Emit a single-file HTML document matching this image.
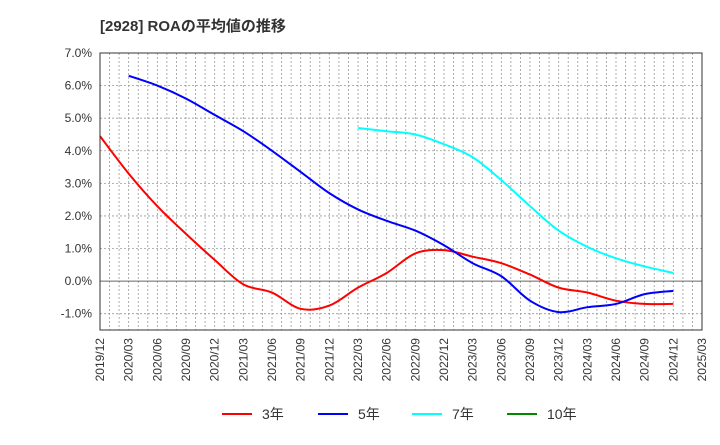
<!DOCTYPE html>
<html><head><meta charset="utf-8"><style>
body{margin:0;background:#fff;font-family:"Liberation Sans","Noto Sans CJK JP",sans-serif}
svg text{font-family:"Liberation Sans","Noto Sans CJK JP",sans-serif}
</style></head><body>
<svg id="c" width="720" height="440" xmlns="http://www.w3.org/2000/svg">
<text x="100" y="31" font-size="15" font-weight="bold" fill="#333">[2928]  ROAの平均値の推移</text>
<g id="grid"></g><g id="series"></g><g id="axes"></g>
<g>
<g><line x1="222" y1="414" x2="252" y2="414" stroke="#f00" stroke-width="2"/><text x="262" y="419" font-size="14" fill="#333">3年</text></g>
<g><line x1="318" y1="414" x2="348" y2="414" stroke="#00f" stroke-width="2"/><text x="358" y="419" font-size="14" fill="#333">5年</text></g>
<g><line x1="412" y1="414" x2="442" y2="414" stroke="#0ff" stroke-width="2"/><text x="452" y="419" font-size="14" fill="#333">7年</text></g>
<g><line x1="507" y1="414" x2="537" y2="414" stroke="#080" stroke-width="2"/><text x="547" y="419" font-size="14" fill="#333">10年</text></g>
</g>
</svg>
<script>
const xLabels=["2019/12","2020/03","2020/06","2020/09","2020/12","2021/03","2021/06","2021/09","2021/12","2022/03","2022/06","2022/09","2022/12","2023/03","2023/06","2023/09","2023/12","2024/03","2024/06","2024/09","2024/12","2025/03"];
const yTicks=[7,6,5,4,3,2,1,0,-1];
const red=[4.45,3.3,2.3,1.45,0.65,-0.1,-0.35,-0.85,-0.75,-0.2,0.25,0.85,0.95,0.75,0.55,0.2,-0.2,-0.35,-0.6,-0.7,-0.7];
const blue=[null,6.3,6.0,5.6,5.1,4.6,4.0,3.35,2.7,2.2,1.85,1.55,1.1,0.55,0.15,-0.6,-0.95,-0.8,-0.7,-0.4,-0.3];
const cyan=[null,null,null,null,null,null,null,null,null,4.7,4.6,4.5,4.2,3.8,3.1,2.3,1.55,1.05,0.7,0.45,0.25];
const L=100,R=702,T=53,B=330,yMax=7,yMin=-1.5;
const NS="http://www.w3.org/2000/svg";
const xs=i=>L+(R-L)*i/(xLabels.length-1);
const ys=v=>T+(yMax-v)*(B-T)/(yMax-yMin);
function mk(t,a,p){const e=document.createElementNS(NS,t);for(const k in a)e.setAttribute(k,a[k]);p.appendChild(e);return e;}
const grid=document.getElementById('grid'),axes=document.getElementById('axes'),ser=document.getElementById('series');
for(let m=1;m<(xLabels.length-1)*3;m++){const x=L+(R-L)*m/((xLabels.length-1)*3);
const g=mk('line',{x1:x,y1:T,x2:x,y2:B,stroke:'#999','stroke-dasharray':'2,2','stroke-width':0.8},grid);

}
yTicks.forEach(v=>{const y=ys(v);
const g=mk('line',{x1:L,y1:y,x2:R,y2:y,stroke:v===0?'#666':'#999','stroke-dasharray':v===0?'':'2,2','stroke-width':v===0?1:0.8},grid);


const t=mk('text',{x:L-8,y:y+4,'text-anchor':'end','font-size':12,fill:'#333'},axes);t.textContent=v.toFixed(1)+'%';

});
const fr=mk('rect',{x:L,y:T,width:R-L,height:B-T,fill:'none',stroke:'#333','stroke-width':1},axes);


xLabels.forEach((s,i)=>{const x=xs(i);
const t=mk('text',{x:0,y:0,'text-anchor':'end','font-size':12,fill:'#333',transform:`translate(${x+4},${B+8}) rotate(-90)`},axes);t.textContent=s;

});
function path(arr,color,name){const pts=[];arr.forEach((v,i)=>{if(v!==null)pts.push([xs(i),ys(v)]);});
let d='M'+pts[0][0]+','+pts[0][1];
for(let i=0;i<pts.length-1;i++){const p0=pts[i-1]||pts[i],p1=pts[i],p2=pts[i+1],p3=pts[i+2]||p2;
const c1=[p1[0]+(p2[0]-p0[0])/6,p1[1]+(p2[1]-p0[1])/6],c2=[p2[0]-(p3[0]-p1[0])/6,p2[1]-(p3[1]-p1[1])/6];
d+=`C${c1[0]},${c1[1]} ${c2[0]},${c2[1]} ${p2[0]},${p2[1]}`;}
const p=mk('path',{d:d,fill:'none',stroke:color,'stroke-width':2},ser);

}
path(red,'#f00','line-3y');path(blue,'#00f','line-5y');path(cyan,'#0ff','line-7y');
</script>
</body></html>
